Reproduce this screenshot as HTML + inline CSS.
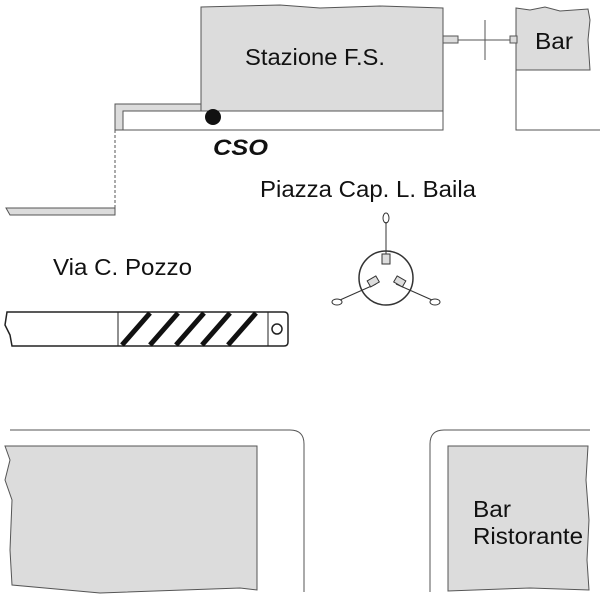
<!DOCTYPE html>
<html><head><style>body{margin:0;background:#fff}svg{display:block}text{font-family:"Liberation Sans",sans-serif;fill:#111}</style></head><body>
<svg width="600" height="600" viewBox="0 0 600 600">
<g stroke="#555" stroke-width="1" fill="#dcdcdc">
<path d="M201,7 L280,5 L320,8 L380,6 L443,8 L443,111 L201,111 Z"/>
<path d="M115,104 L201,104 L201,111 L123,111 L123,130 L115,130 Z"/>
<path d="M516,8 L530,10 L545,7 L560,11 L588,9 L590,20 L588,40 L590,70 L516,70 Z"/>
<rect x="443" y="36" width="15" height="7"/>
<rect x="510" y="36" width="7" height="7"/>
<path d="M6,208 L115,208 L115,215 L10,215 Z"/>
<path d="M5,446 L257,446 L257,590 L240,588 L100,593 L12,585 L10,550 L12,500 L5,480 L10,460 Z"/>
<path d="M448,446 L588,446 L586,480 L589,520 L587,560 L589,590 L530,588 L448,591 Z"/>
</g>
<g stroke="#555" fill="none">
<path d="M123,111 L443,111 L443,130 L115,130"/>
<path d="M115,130 L115,208" stroke-dasharray="3,2"/>
<path d="M458,40 L510,40 M485,20 L485,60"/>
<path d="M516,70 L516,130 L600,130"/>
<path d="M10,430 L290,430 Q304,430 304,444 L304,592"/>
<path d="M590,430 L444,430 Q430,430 430,444 L430,592"/>
</g>
<circle cx="213" cy="117" r="8" fill="#111"/>
<text x="213" y="155" font-size="22" font-weight="bold" font-style="italic" textLength="55" lengthAdjust="spacingAndGlyphs">CSO</text>
<text x="245" y="65" font-size="23" textLength="140" lengthAdjust="spacingAndGlyphs">Stazione F.S.</text>
<text x="535" y="49" font-size="23" textLength="38" lengthAdjust="spacingAndGlyphs">Bar</text>
<text x="260" y="197" font-size="23" textLength="216" lengthAdjust="spacingAndGlyphs">Piazza Cap. L. Baila</text>
<text x="53" y="275" font-size="23" textLength="139" lengthAdjust="spacingAndGlyphs">Via C. Pozzo</text>
<text x="473" y="517" font-size="23" textLength="38" lengthAdjust="spacingAndGlyphs">Bar</text>
<text x="473" y="544" font-size="23" textLength="110" lengthAdjust="spacingAndGlyphs">Ristorante</text>
<g stroke="#222" stroke-width="1.5" fill="none">
<path d="M7,312 L284,312 Q288,312 288,316 L288,342 Q288,346 284,346 L12,346 L10,335 L5,325 L7,312 Z"/>
<path d="M118,312 L118,346 M268,312 L268,346" stroke-width="1"/>
<circle cx="277" cy="329" r="5"/>
</g>
<g stroke="#111" stroke-width="5">
<path d="M122,345 L150,313 M150,345 L178,313 M176,345 L204,313 M202,345 L230,313 M228,345 L256,313"/>
</g>
<g stroke="#333" fill="none">
<circle cx="386" cy="278" r="27" stroke-width="1.5"/>
<path d="M386,222 L386,254 M376,284 L340,300 M396,284 L432,300" stroke-width="1"/>
<ellipse cx="386" cy="218" rx="3" ry="5"/>
<ellipse cx="337" cy="302" rx="5" ry="3"/>
<ellipse cx="435" cy="302" rx="5" ry="3"/>
<rect x="382" y="254" width="8" height="10" fill="#ddd"/>
<rect x="368" y="278" width="10" height="7" fill="#ddd" transform="rotate(-30 373 281)"/>
<rect x="395" y="278" width="10" height="7" fill="#ddd" transform="rotate(30 400 281)"/>
</g>
</svg>
</body></html>
